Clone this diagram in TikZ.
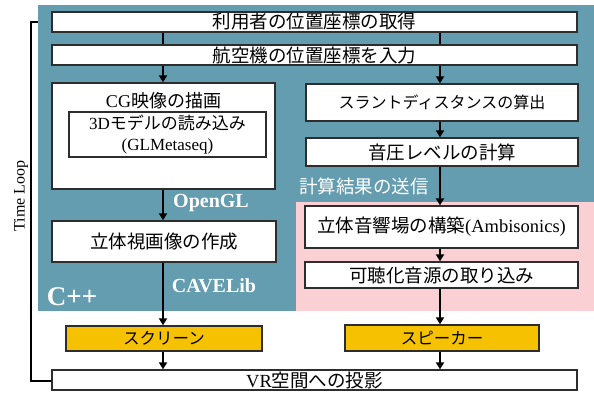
\documentclass[tikz,border=0pt]{standalone}
\usepackage{fontspec}
\setmainfont{Liberation Serif}
\newfontfamily\jp{Noto Sans CJK JP}
\usetikzlibrary{arrows.meta}
\definecolor{teal0}{RGB}{100,156,176}
\definecolor{pink0}{RGB}{251,208,212}
\definecolor{gold0}{RGB}{246,194,0}
\definecolor{edge0}{RGB}{45,45,45}
\tikzset{
  box/.style={draw=edge0, line width=1.3pt, fill=white, inner sep=0pt, align=center, font=\fontsize{18.5}{22}\selectfont},
  ybox/.style={box, fill=gold0, font=\fontsize{16.5}{20}\selectfont},
  flow/.style={line width=2pt, -{Triangle[width=8pt,length=7pt]}},
  link/.style={line width=2pt},
  lab/.style={text=white, font=\bfseries\fontsize{20}{24}\selectfont, inner sep=0pt},
}
\begin{document}
\begin{tikzpicture}[x=1pt,y=-1pt]
\useasboundingbox (0,0) rectangle (594,392);
% nodes (positions in px)
\coordinate (L) at (163,0);
\coordinate (R) at (440,0);
\node[box, minimum width=525, minimum height=20] (top) at (314.5,22) {};
\node[box, minimum width=525, minimum height=20] (vr) at (314.5,380) {};
% time loop (under background)
\draw[line width=1.2pt] (top.west) -- (31,22) -- (31,381) -- (vr.west |- 0,381);
\node[rotate=90, font=\fontsize{16}{19}\selectfont, inner sep=0pt] (tl) at (21,196) {Time Loop};
% backgrounds
\fill[teal0] (38,5) rectangle (594,311);
\fill[pink0] (296,202) rectangle (594,311);
% boxes
\node[box, minimum width=525, minimum height=20] (top) at (314.5,22) {{\jp 利用者の位置座標の取得}};
\node[box, minimum width=525, minimum height=20] (second) at (314.5,55) {{\jp 航空機の位置座標を入力}};
\node[box, minimum width=223, minimum height=106] (cg) at (163.5,136) {};
\node[inner sep=0pt, font=\fontsize{18}{22}\selectfont] (cgt) at (163.5,101) {CG{\jp 映像の描画}};
\node[box, minimum width=197, minimum height=45, font=\fontsize{17}{21}\selectfont] (model) at (167.5,134.5) {3D{\jp モデルの読み込み}\\(GLMetaseq)};
\node[box, minimum width=224, minimum height=41] (stereo) at (164,241.5) {{\jp 立体視画像の作成}};
\node[ybox, minimum width=196, minimum height=25] (screen) at (164,338.5) {{\jp スクリーン}};
\node[box, minimum width=272, minimum height=37, font=\fontsize{16}{20}\selectfont] (slant) at (442,102.5) {{\jp スラントディスタンスの算出}};
\node[box, minimum width=272, minimum height=28] (spl) at (442,152) {{\jp 音圧レベルの計算}};
\node[box, minimum width=273, minimum height=42] (amb) at (441.5,227) {{\jp 立体音響場の構築}(Ambisonics)};
\node[box, minimum width=273, minimum height=26] (aud) at (441.5,275) {{\jp 可聴化音源の取り込み}};
\node[ybox, minimum width=194, minimum height=26] (spk) at (442,338) {{\jp スピーカー}};
\node[box, minimum width=525, minimum height=20] (vr) at (314.5,380) {VR{\jp 空間への投影}};
% labels
\node[lab] (ogl) at (211,203) {OpenGL};
\node[lab] (cave) at (214,286) {CAVELib};
\node[lab, font=\bfseries\fontsize{27}{30}\selectfont] (cpp) at (72,297) {C++};
\node[text=white, inner sep=0pt, font=\fontsize{18.5}{22}\selectfont] (send) at (364,186) {{\jp 計算結果の送信}};
% connectors left
\draw[link] (top.south -| L) -- (second.north -| L);
\draw[flow] (second.south -| L) -- (cg.north -| L);
\draw[flow] (cg.south -| L) -- (stereo.north -| L);
\draw[flow] (stereo.south -| L) -- (screen.north -| L);
\draw[flow] (screen.south -| L) -- (vr.north -| L);
% connectors right
\draw[link] (top.south -| R) -- (second.north -| R);
\draw[flow] (second.south -| R) -- (slant.north -| R);
\draw[flow] (slant.south -| R) -- (spl.north -| R);
\draw[flow] (spl.south -| R) -- (amb.north -| R);
\draw[flow] (amb.south -| R) -- (aud.north -| R);
\draw[flow] (aud.south -| R) -- (spk.north -| R);
\draw[flow] (spk.south -| R) -- (vr.north -| R);
\end{tikzpicture}
\end{document}
